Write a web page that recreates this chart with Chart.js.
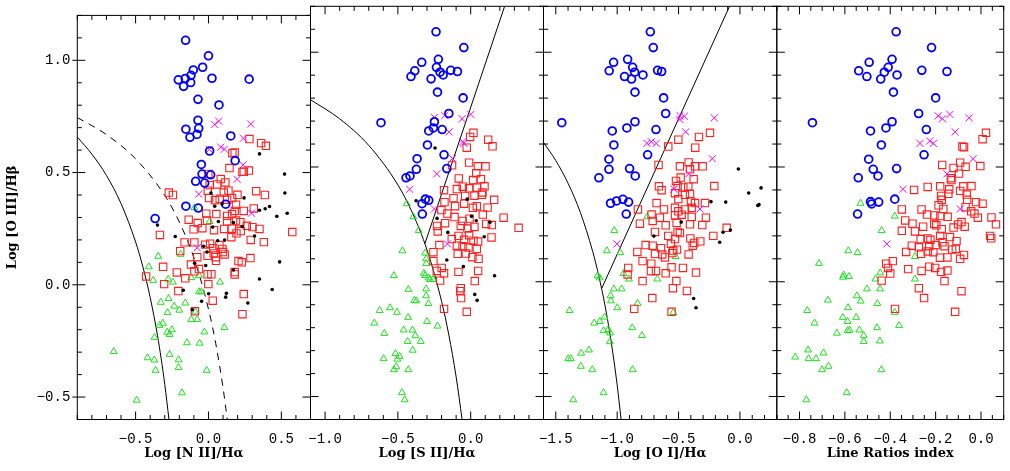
<!DOCTYPE html>
<html>
<head>
<meta charset="utf-8">
<script src="https://cdn.jsdelivr.net/npm/chart.js@4.4.0/dist/chart.umd.min.js"></script>
<style>
    body { margin: 0; background: #fff; }
    #wrap { position: relative; width: 1010px; height: 471px; }
    #wrap canvas { position: absolute; left: 0; top: 0; }
</style>
</head>
<body>
<div id="wrap">
    <canvas id="c0" width="1010" height="471"></canvas>
    <canvas id="c1" width="1010" height="471"></canvas>
    <canvas id="c2" width="1010" height="471"></canvas>
    <canvas id="c3" width="1010" height="471"></canvas>
</div>
<script>
// ---- ejes y rótulos ----
const yTicks = [-0.5, 0.0, 0.5, 1.0];
const yTitle = 'Log [O III]/H\u03b2';
const xTicksNII = [-0.5, 0.0, 0.5];
const xTicksSII = [-1.0, -0.5, 0.0];
const xTicksOI = [-1.5, -1.0, -0.5, 0.0];
const xTicksLRI = [-0.8, -0.6, -0.4, -0.2, 0.0];
const xTitles = ['Log [N II]/H\u03b1', 'Log [S II]/H\u03b1', 'Log [O I]/H\u03b1', 'Line Ratios index'];

// ---- curvas de demarcación ----
const niiKauffmann = [[-0.9,0.658],[-0.8,0.582],[-0.7,0.487],[-0.6,0.362],[-0.5,0.191],[-0.45,0.08],[-0.4,-0.056],[-0.35,-0.225],[-0.325,-0.327],[-0.3,-0.443],[-0.271,-0.6]];
const niiKewley = [[-0.9,0.745],[-0.7,0.669],[-0.5,0.561],[-0.3,0.398],[-0.2,0.28],[-0.1,0.12],[0.0,-0.108],[0.05,-0.262],[0.1,-0.459],[0.129,-0.6]];
const siiKewley = [[-1.1,0.793],[-0.9,0.71],[-0.7,0.594],[-0.5,0.422],[-0.4,0.3],[-0.3,0.139],[-0.2,-0.085],[-0.15,-0.232],[-0.1,-0.414],[-0.059,-0.6]];
const siiSeyLiner = [[-0.315,0.165],[0.233,1.2]];
const oiKewley = [[-1.6,0.607],[-1.5,0.528],[-1.4,0.429],[-1.3,0.302],[-1.2,0.133],[-1.15,0.026],[-1.1,-0.101],[-1.05,-0.257],[-1.0,-0.45],[-0.968,-0.6]];
const oiSeyLiner = [[-1.125,-0.028],[-0.085,1.2]];

// ---- panel 1: [N II] ----
const niiSy = [[-0.157,1.089],[0.000,1.020],[-0.040,0.969],[-0.104,0.957],[-0.120,0.933],[-0.207,0.913],[-0.159,0.919],[-0.122,0.901],[-0.171,0.884],[0.024,0.920],[0.279,0.916],[-0.072,0.826],[0.072,0.801],[-0.072,0.733],[-0.155,0.693],[-0.067,0.697],[-0.127,0.657],[-0.079,0.670],[0.153,0.663],[0.008,0.596],[0.183,0.553],[-0.049,0.536],[-0.044,0.493],[0.015,0.490],[-0.088,0.461],[-0.026,0.453],[-0.155,0.350],[-0.070,0.342],[-0.366,0.295],[0.118,0.359]];
const niiLn = [[0.043,0.714],[0.070,0.729],[0.290,0.716],[0.240,0.653],[0.084,0.613],[0.109,0.604],[0.006,0.603],[0.238,0.534],[0.196,0.470],[-0.067,0.404],[0.295,0.319],[-0.077,0.165]];
const niiBk = [[0.350,0.583],[0.522,0.493],[0.524,0.409],[0.419,0.349],[0.244,0.387],[0.017,0.409],[0.043,0.350],[0.093,0.360],[0.350,0.332],[0.389,0.339],[0.469,0.305],[0.540,0.319],[-0.350,0.266],[-0.228,0.215],[0.171,0.277],[0.231,0.260],[0.068,0.282],[0.029,0.257],[0.316,0.217],[0.063,0.196],[0.111,0.199],[-0.033,0.172],[-0.010,0.146],[-0.095,0.096],[-0.019,0.086],[0.488,0.102],[0.171,0.066],[0.350,0.026],[0.437,-0.021],[-0.173,-0.024],[0.001,-0.040],[0.123,-0.038],[0.118,-0.055],[-0.047,-0.073],[0.270,-0.081],[-0.111,-0.111]];
const niiCp = [[0.281,0.649],[0.361,0.631],[0.394,0.619],[0.164,0.586],[0.180,0.589],[0.144,0.520],[0.233,0.503],[0.242,0.504],[0.277,0.509],[-0.001,0.494],[0.084,0.471],[0.116,0.456],[0.059,0.447],[0.008,0.444],[-0.272,0.411],[-0.244,0.400],[-0.005,0.419],[0.105,0.411],[0.137,0.419],[0.199,0.401],[0.327,0.417],[0.387,0.400],[0.004,0.386],[0.045,0.377],[0.077,0.383],[0.128,0.379],[0.162,0.386],[0.189,0.357],[0.311,0.340],
    [0.180,0.329],[0.242,0.329],[-0.015,0.317],[0.054,0.315],[0.128,0.307],[0.162,0.315],[-0.136,0.290],[-0.074,0.275],[-0.010,0.286],[0.128,0.283],[0.189,0.286],[0.219,0.279],[0.263,0.263],[0.302,0.257],[0.350,0.249],[0.575,0.235],[-0.102,0.247],[-0.042,0.252],[0.038,0.243],[0.107,0.249],[0.160,0.250],[0.192,0.229],[0.157,0.212],[0.222,0.239],[-0.333,0.222],[0.290,0.200],[0.380,0.190],[-0.164,0.189],[-0.097,0.189],[-0.022,0.179],[0.011,0.183],[0.033,0.163],[0.075,0.177],[0.095,0.160],[0.100,0.146],[0.111,0.135],[0.036,0.140],[-0.194,0.150],[-0.077,0.123],[-0.006,0.129],[0.050,0.123],[0.052,0.107],[0.288,0.119],[0.206,0.106],[0.228,0.100],[-0.311,0.080],[-0.120,0.090],[-0.097,0.060],[-0.065,0.070],[-0.006,0.047],[0.020,0.047],[0.180,0.057],[0.180,0.046],[-0.428,0.037],[-0.217,0.055],[-0.159,0.029],[-0.304,0.003],[-0.001,0.003],[-0.207,-0.028],[0.029,-0.071],[0.242,-0.041],[-0.093,-0.118],[0.233,-0.131]];
const niiSf = [[-0.345,0.127],[-0.409,0.080],[-0.379,0.020],[-0.276,0.025],[-0.244,0.012],[-0.191,0.136],[-0.097,0.343],[0.008,0.282],[-0.065,0.042],[-0.118,0.032],[0.079,0.012],[-0.065,-0.031],[-0.049,-0.031],[-0.327,-0.078],[-0.274,-0.061],[-0.235,-0.095],[-0.200,-0.113],[-0.159,-0.081],[-0.281,-0.124],[-0.090,-0.121],[-0.118,-0.155],[-0.077,-0.155],[-0.336,-0.181],[-0.313,-0.171],[-0.251,-0.200],[-0.283,-0.211],[-0.267,-0.221],[-0.370,-0.234],[-0.028,-0.210],[0.109,-0.190],[-0.148,-0.258],[-0.061,-0.260],[-0.650,-0.297],[-0.418,-0.325],[-0.372,-0.335],[-0.363,-0.381],[-0.267,-0.310],[-0.205,-0.334],[-0.205,-0.368],[-0.012,-0.381],[-0.182,-0.481],[-0.492,-0.514]];

// ---- panel 2: [S II] ----
const siiSy = [[-0.238,1.089],[-0.047,1.020],[-0.222,0.969],[-0.336,0.956],[-0.235,0.934],[-0.384,0.919],[-0.410,0.894],[-0.210,0.913],[-0.189,0.901],[-0.137,0.921],[-0.091,0.916],[-0.272,0.884],[-0.228,0.826],[-0.052,0.801],[-0.616,0.693],[-0.150,0.733],[-0.249,0.697],[-0.256,0.670],[-0.288,0.657],[-0.196,0.663],[-0.297,0.596],[-0.183,0.553],[-0.368,0.536],[-0.373,0.490],[-0.164,0.493],[-0.417,0.461],[-0.444,0.453],[-0.311,0.360],[-0.288,0.355],[-0.334,0.340],[-0.332,0.295]];
const siiLn = [[-0.249,0.716],[-0.178,0.724],[-0.059,0.710],[0.001,0.729],[-0.148,0.653],[-0.054,0.610],[-0.047,0.603],[-0.125,0.537],[-0.233,0.470],[-0.419,0.403],[-0.249,0.317],[-0.160,0.165]];
const siiBk = [[-0.245,0.583],[-0.375,0.353],[-0.024,0.360],[-0.231,0.276],[0.006,0.285],[0.038,0.266],[0.132,0.259],[-0.157,0.215],[0.093,0.196],[-0.164,0.095],[-0.050,0.066],[0.164,0.026],[0.028,-0.055],[0.044,-0.081]];
const siiCp = [[0.019,0.649],[-0.004,0.631],[0.120,0.619],[0.150,0.590],[-0.027,0.584],[-0.128,0.507],[-0.011,0.519],[0.049,0.503],[0.102,0.503],[0.038,0.473],[-0.082,0.450],[0.017,0.443],[0.070,0.447],[-0.183,0.399],[-0.095,0.404],[-0.054,0.414],[-0.011,0.407],[0.042,0.410],[0.095,0.416],[0.081,0.389],[0.161,0.357],[-0.118,0.364],[-0.038,0.374],[-0.180,0.347],[0.026,0.375],[0.077,0.379],
    [-0.201,0.312],[-0.160,0.297],[-0.107,0.329],[-0.045,0.340],[0.015,0.322],[0.042,0.329],[0.116,0.323],[0.083,0.293],[0.226,0.279],[0.329,0.235],[-0.111,0.282],[-0.056,0.265],[-0.008,0.275],[-0.176,0.255],[-0.231,0.243],[-0.226,0.219],[-0.068,0.243],[-0.022,0.232],[0.026,0.239],[0.106,0.252],[0.145,0.247],[-0.130,0.186],[-0.084,0.200],[-0.045,0.183],[-0.011,0.203],[0.019,0.179],[0.051,0.175],[0.143,0.193],[-0.215,0.160],[-0.095,0.157],[-0.056,0.155],[-0.015,0.149],[0.042,0.143],[-0.256,0.129],[-0.089,0.122],[-0.033,0.123],[0.012,0.107],[0.054,0.100],[-0.256,0.090],[-0.199,0.060],[-0.233,0.047],[-0.183,0.037],[-0.084,0.043],[0.051,0.047],[-0.210,0.005],[0.028,0.003],[-0.068,-0.028],[-0.072,-0.041],[-0.066,-0.071],[-0.183,-0.118],[-0.027,-0.131]];
const siiSf = [[-0.439,0.340],[-0.394,0.283],[-0.357,0.223],[-0.469,0.135],[-0.313,0.125],[-0.306,0.100],[-0.306,0.079],[-0.322,0.037],[-0.313,0.027],[-0.290,0.017],[-0.279,0.010],[-0.258,0.010],[-0.527,0.027],[-0.428,-0.033],[-0.306,-0.031],[-0.387,-0.081],[-0.373,-0.083],[-0.306,-0.061],[-0.290,-0.095],[-0.625,-0.125],[-0.554,-0.113],[-0.506,-0.133],[-0.430,-0.155],[-0.662,-0.180],[-0.300,-0.173],[-0.228,-0.193],[-0.593,-0.225],[-0.460,-0.210],[-0.400,-0.210],[-0.380,-0.235],[-0.343,-0.260],[-0.433,-0.260],[-0.398,-0.298],[-0.598,-0.335],[-0.517,-0.313],[-0.488,-0.325],[-0.504,-0.337],[-0.511,-0.370],[-0.527,-0.383],[-0.428,-0.383],[-0.472,-0.483],[-0.453,-0.514]];

// ---- panel 3: [O I] ----
const oiSy = [[-0.730,1.089],[-0.706,1.020],[-0.915,0.969],[-1.029,0.956],[-0.874,0.934],[-1.065,0.919],[-0.858,0.913],[-0.940,0.894],[-0.883,0.883],[-0.790,0.901],[-0.671,0.921],[-0.638,0.916],[-0.855,0.826],[-0.622,0.801],[-0.605,0.733],[-1.451,0.693],[-0.855,0.697],[-0.921,0.670],[-1.040,0.657],[-0.684,0.663],[-1.027,0.596],[-0.752,0.553],[-1.067,0.534],[-1.067,0.490],[-0.899,0.493],[-0.853,0.461],[-1.149,0.453],[-1.054,0.342],[-1.005,0.352],[-0.953,0.359],[-0.907,0.347],[-0.926,0.295]];
const oiLn = [[-0.489,0.724],[-0.453,0.721],[-0.489,0.707],[-0.209,0.714],[-0.442,0.653],[-0.758,0.603],[-0.722,0.610],[-0.682,0.603],[-0.225,0.536],[-0.415,0.471],[-0.538,0.403],[-0.326,0.317],[-1.002,0.165]];
const oiBk = [[-0.013,0.491],[0.172,0.409],[0.071,0.387],[-0.236,0.349],[-0.116,0.347],[0.145,0.332],[0.155,0.336],[-0.478,0.260],[-0.078,0.225],[-0.138,0.216],[-0.165,0.172],[-0.701,0.199],[-0.377,-0.073],[-0.358,-0.113]];
const oiCp = [[-0.244,0.649],[-0.334,0.631],[-0.502,0.619],[-0.364,0.584],[-0.584,0.589],[-0.663,0.509],[-0.489,0.503],[-0.418,0.520],[-0.366,0.503],[-0.304,0.503],[-0.407,0.490],[-0.483,0.454],[-0.377,0.447],[-0.521,0.439],[-0.660,0.416],[-0.638,0.399],[-0.209,0.417],[-0.508,0.417],[-0.461,0.411],[-0.421,0.414],[-0.529,0.386],[-0.448,0.379],[-0.407,0.383],[-0.502,0.360],[-0.679,0.343],[-0.399,0.349],[-0.285,0.343],
    [-0.366,0.343],[-0.831,0.315],[-0.619,0.315],[-0.529,0.322],[-0.502,0.307],[-0.448,0.315],[-0.393,0.322],[-0.720,0.293],[-0.652,0.279],[-0.529,0.289],[-0.475,0.292],[-0.393,0.283],[-0.277,0.279],[-0.815,0.253],[-0.711,0.265],[-0.605,0.246],[-0.516,0.257],[-0.407,0.250],[-0.307,0.247],[-0.108,0.235],[-0.217,0.200],[-0.692,0.217],[-0.584,0.200],[-0.529,0.186],[-0.508,0.217],[-0.489,0.212],[-0.404,0.189],[-0.372,0.169],[-0.323,0.176],[-0.768,0.160],[-0.711,0.157],[-0.643,0.146],[-0.562,0.165],[-0.543,0.136],[-0.513,0.140],[-0.385,0.157],[-0.836,0.130],[-0.692,0.122],[-0.633,0.119],[-0.611,0.106],[-0.551,0.125],[-0.418,0.119],[-0.793,0.090],[-0.722,0.079],[-0.910,0.060],[-0.725,0.046],[-0.684,0.047],[-0.605,0.037],[-0.557,0.063],[-0.464,0.060],[-0.358,0.040],[-0.915,0.032],[-0.793,0.003],[-0.518,0.003],[-0.546,-0.028],[-0.432,-0.040],[-0.714,-0.071],[-0.861,-0.118],[-0.557,-0.131]];
const oiSf = [[-0.755,0.283],[-1.024,0.223],[-1.084,0.135],[-0.975,0.127],[-0.524,0.110],[-1.160,0.026],[-1.143,0.017],[-0.948,0.036],[-0.904,0.012],[-0.673,0.012],[-1.027,-0.031],[-0.964,-0.031],[-1.054,-0.061],[-1.051,-0.083],[-0.999,-0.113],[-0.834,-0.094],[-1.388,-0.125],[-0.543,-0.134],[-1.103,-0.154],[-1.141,-0.173],[-1.187,-0.180],[-1.111,-0.213],[-1.073,-0.208],[-1.057,-0.223],[-0.877,-0.200],[-0.798,-0.234],[-1.059,-0.261],[-1.230,-0.297],[-1.293,-0.311],[-1.399,-0.335],[-1.377,-0.335],[-1.296,-0.368],[-1.203,-0.383],[-0.874,-0.383],[-1.111,-0.483],[-1.358,-0.514]];

// ---- panel 4: índice de cocientes ----
const lriSy = [[-0.374,1.089],[-0.218,1.020],[-0.392,0.969],[-0.493,0.956],[-0.409,0.934],[-0.539,0.919],[-0.426,0.913],[-0.503,0.894],[-0.442,0.883],[-0.370,0.901],[-0.261,0.921],[-0.150,0.916],[-0.386,0.826],[-0.200,0.801],[-0.275,0.733],[-0.743,0.693],[-0.392,0.697],[-0.419,0.670],[-0.487,0.657],[-0.241,0.663],[-0.439,0.596],[-0.251,0.553],[-0.495,0.534],[-0.475,0.490],[-0.372,0.493],[-0.454,0.461],[-0.541,0.453],[-0.487,0.349],[-0.482,0.339],[-0.451,0.347],[-0.380,0.360],[-0.544,0.295]];
const lriLn = [[-0.189,0.723],[-0.170,0.710],[-0.137,0.729],[-0.052,0.714],[-0.114,0.653],[-0.269,0.603],[-0.226,0.613],[-0.210,0.603],[-0.035,0.536],[-0.150,0.470],[-0.344,0.403],[-0.091,0.317],[-0.415,0.165]];
const lriCp = [[0.022,0.649],[0.007,0.621],[-0.082,0.589],[-0.075,0.586],[-0.171,0.509],[-0.121,0.496],[-0.092,0.519],[-0.068,0.501],[-0.003,0.504],[-0.097,0.471],[-0.133,0.451],[-0.130,0.443],[-0.295,0.400],[-0.235,0.413],[-0.180,0.416],[-0.140,0.403],[-0.078,0.416],[-0.042,0.417],[-0.176,0.374],[-0.144,0.383],[-0.092,0.396],[-0.063,0.380],[-0.061,0.357],[-0.173,0.357],[-0.022,0.347],[0.007,0.340],
    [-0.349,0.315],[-0.262,0.315],[-0.238,0.293],[-0.187,0.333],[-0.166,0.317],[-0.205,0.289],[-0.179,0.286],[-0.147,0.283],[-0.068,0.325],[-0.043,0.307],[-0.029,0.297],[-0.014,0.279],[0.046,0.280],[0.066,0.250],[-0.334,0.267],[-0.302,0.253],[-0.255,0.240],[-0.206,0.252],[-0.197,0.246],[-0.173,0.229],[-0.121,0.236],[-0.101,0.250],[-0.086,0.260],[-0.072,0.240],[-0.349,0.222],[-0.291,0.219],[-0.266,0.186],[-0.236,0.189],[-0.223,0.183],[-0.180,0.200],[-0.137,0.195],[-0.108,0.177],[0.040,0.200],[0.045,0.189],[-0.305,0.157],[-0.274,0.150],[-0.228,0.155],[-0.199,0.160],[-0.170,0.172],[-0.161,0.155],[-0.127,0.140],[-0.111,0.143],[-0.330,0.130],[-0.264,0.122],[-0.235,0.132],[-0.210,0.129],[-0.181,0.105],[-0.148,0.106],[-0.092,0.100],[-0.075,0.117],[-0.418,0.079],[-0.389,0.090],[-0.410,0.060],[-0.400,0.036],[-0.321,0.055],[-0.262,0.047],[-0.228,0.066],[-0.202,0.060],[-0.176,0.043],[-0.148,0.049],[-0.438,0.005],[-0.161,0.003],[-0.274,-0.028],[-0.251,-0.071],[-0.086,-0.041],[-0.379,-0.118],[-0.114,-0.131]];
const lriSf = [[-0.531,0.342],[-0.380,0.286],[-0.438,0.223],[-0.585,0.135],[-0.544,0.127],[-0.714,0.080],[-0.605,0.029],[-0.582,0.023],[-0.608,0.020],[-0.444,0.039],[-0.465,0.012],[-0.291,0.110],[-0.291,0.012],[-0.445,-0.031],[-0.503,-0.031],[-0.675,-0.080],[-0.547,-0.061],[-0.530,-0.084],[-0.457,-0.095],[-0.766,-0.125],[-0.586,-0.113],[-0.380,-0.133],[-0.734,-0.180],[-0.609,-0.155],[-0.588,-0.173],[-0.550,-0.155],[-0.361,-0.191],[-0.458,-0.200],[-0.635,-0.224],[-0.588,-0.213],[-0.579,-0.211],[-0.536,-0.210],[-0.517,-0.235],[-0.517,-0.260],[-0.446,-0.258],[-0.762,-0.297],[-0.694,-0.310],[-0.819,-0.328],[-0.760,-0.335],[-0.727,-0.335],[-0.672,-0.368],[-0.701,-0.383],[-0.439,-0.383],[-0.592,-0.483],[-0.770,-0.514]];

// ---- estilos de cada clase ----
const estilos = {
    bk: { pointStyle: 'circle', pointRadius: 1.8, backgroundColor: '#000', borderColor: '#000', borderWidth: 0 },
    sy: { pointStyle: 'circle', pointRadius: 3.9, backgroundColor: 'rgba(0,0,0,0)', borderColor: '#0000ff', borderWidth: 1.8 },
    ln: { pointStyle: 'crossRot', pointRadius: 5, backgroundColor: 'rgba(0,0,0,0)', borderColor: '#ff00ff', borderWidth: 1 },
    cp: { pointStyle: 'rect', pointRadius: 5.2, backgroundColor: 'rgba(0,0,0,0)', borderColor: '#ff2020', borderWidth: 1.1 },
    sf: { pointStyle: 'triangle', pointRadius: 4, backgroundColor: 'rgba(0,0,0,0)', borderColor: '#1ee01e', borderWidth: 1 }
};

const paneles = [
    { x0: 77.3, x1: 310.5, min: -0.9, max: 0.7, ticks: xTicksNII, minor: 0.1, major: 0.5,
      sets: { bk: niiBk, sy: niiSy, ln: niiLn, cp: niiCp, sf: niiSf },
      curvas: [[niiKauffmann, []], [niiKewley, [7, 6]]] },
    { x0: 310.5, x1: 543.5, min: -1.1, max: 0.5, ticks: xTicksSII, minor: 0.1, major: 0.5,
      sets: { bk: siiBk, sy: siiSy, ln: siiLn, cp: siiCp, sf: siiSf },
      curvas: [[siiKewley, []], [siiSeyLiner, []]] },
    { x0: 543.5, x1: 776.8, min: -1.6, max: 0.3, ticks: xTicksOI, minor: 0.1, major: 0.5,
      sets: { bk: oiBk, sy: oiSy, ln: oiLn, cp: oiCp, sf: oiSf },
      curvas: [[oiKewley, []], [oiSeyLiner, []]] },
    { x0: 776.8, x1: 1008.8, min: -0.9, max: 0.1, ticks: xTicksLRI, minor: 0.05, major: 0.2,
      sets: { sy: lriSy, ln: lriLn, cp: lriCp, sf: lriSf },
      curvas: [] }
];

function fmt(v) {
    const s = Math.abs(v).toFixed(1);
    return v < -1e-9 ? '\u2212' + s : s;
}

function cadaTick(min, max, paso, mayor, fn) {
    const i0 = Math.ceil(min / paso - 1e-6), i1 = Math.floor(max / paso + 1e-6);
    for (let i = i0; i <= i1; i++) {
        const v = i * paso, r = v / mayor;
        fn(v, Math.abs(r - Math.round(r)) < 1e-6);
    }
}

// marco y marcas hacia adentro en los cuatro lados
const marcoTicks = {
    id: 'marcoTicks',
    afterDatasetsDraw(chart, args, opts) {
        const { ctx, chartArea: a } = chart;
        const xs = chart.scales.x, ys = chart.scales.y;
        ctx.save();
        ctx.strokeStyle = '#000';
        ctx.lineWidth = 1;
        ctx.strokeRect(a.left, a.top, a.right - a.left, a.bottom - a.top);
        ctx.beginPath();
        cadaTick(xs.min, xs.max, opts.minor, opts.major, (v, big) => {
            const p = xs.getPixelForValue(v), l = big ? 8 : 4.5;
            ctx.moveTo(p, a.bottom); ctx.lineTo(p, a.bottom - l);
            ctx.moveTo(p, a.top); ctx.lineTo(p, a.top + l);
        });
        cadaTick(ys.min, ys.max, 0.1, 0.5, (v, big) => {
            const p = ys.getPixelForValue(v), l = big ? 8 : 4.5;
            ctx.moveTo(a.left - (opts.fuera && big ? 5 : 0), p); ctx.lineTo(a.left + l, p);
            ctx.moveTo(a.right, p); ctx.lineTo(a.right - l, p);
        });
        ctx.stroke();
        ctx.restore();
    }
};

const fuenteTicks = { family: 'Liberation Mono', size: 14 };
const fuenteTitulo = { family: 'DejaVu Serif', size: 13, weight: 'bold' };

paneles.forEach((p, i) => {
    const datasets = [];
    ['bk', 'sy', 'ln', 'cp', 'sf'].forEach(k => {
        if (!p.sets[k]) return;
        datasets.push(Object.assign({
            label: k,
            data: p.sets[k].map(([x, y]) => ({ x, y })),
            showLine: false
        }, estilos[k]));
    });
    p.curvas.forEach(([pts, dash]) => {
        datasets.push({
            data: pts.map(([x, y]) => ({ x, y })),
            showLine: true,
            borderColor: '#000',
            borderWidth: 1,
            borderDash: dash,
            pointRadius: 0,
            cubicInterpolationMode: 'monotone',
            fill: false
        });
    });

    new Chart(document.getElementById('c' + i), {
        type: 'scatter',
        data: { datasets },
        options: {
            responsive: false,
            animation: false,
            events: [],
            layout: { padding: { left: i === 0 ? 0 : p.x0, right: 1010 - p.x1, top: 1, bottom: 0 } },
            plugins: {
                legend: { display: false },
                tooltip: { enabled: false },
                marcoTicks: { minor: p.minor, major: p.major, fuera: i === 0 }
            },
            scales: {
                x: {
                    type: 'linear',
                    min: p.min,
                    max: p.max,
                    afterBuildTicks: s => { s.ticks = p.ticks.map(v => ({ value: v })); },
                    afterFit: s => { s.height = 51.5; },
                    grid: { display: false, drawTicks: false },
                    border: { display: false },
                    ticks: { font: fuenteTicks, color: '#000', padding: 11, maxRotation: 0, autoSkip: false, callback: v => fmt(v) },
                    title: { display: true, text: xTitles[i], font: fuenteTitulo, color: '#000', padding: { top: 0, bottom: 10 } }
                },
                y: {
                    type: 'linear',
                    min: -0.6,
                    max: 1.2,
                    display: i === 0,
                    afterBuildTicks: s => { s.ticks = yTicks.map(v => ({ value: v })); },
                    afterFit: s => { s.width = i === 0 ? 77.3 : 0; },
                    grid: { display: false, drawTicks: false },
                    border: { display: false },
                    ticks: { font: fuenteTicks, color: '#000', padding: 7, callback: v => fmt(v) },
                    title: { display: true, text: yTitle, font: fuenteTitulo, color: '#000', padding: { top: 5, bottom: 0 } }
                }
            }
        },
        plugins: [marcoTicks]
    });
});
</script>
</body>
</html>
